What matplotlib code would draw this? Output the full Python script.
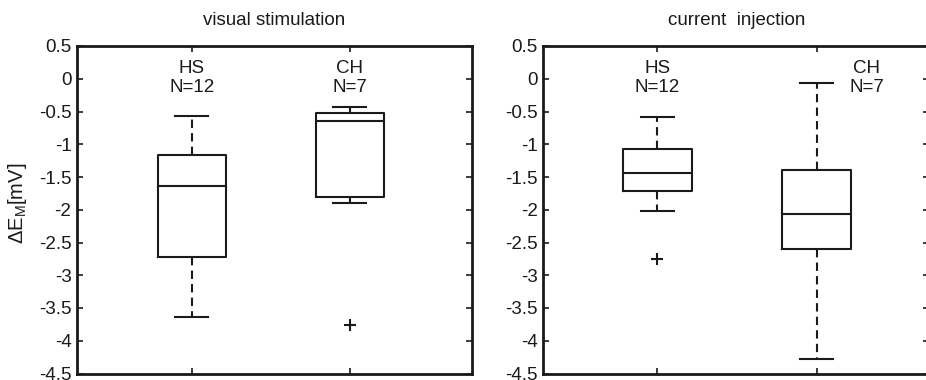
import matplotlib
matplotlib.use('Agg')
import matplotlib.pyplot as plt

plt.rcParams['font.family'] = ['Liberation Sans', 'DejaVu Sans']
plt.rcParams['mathtext.fontset'] = 'custom'
plt.rcParams['mathtext.rm'] = 'Liberation Sans'
plt.rcParams['mathtext.it'] = 'Liberation Sans'

# box statistics (mV)
groups = ['HS', 'CH']
n_cells = [12, 7]

vis_whislo = [-3.64, -1.90]
vis_q1 = [-2.72, -1.80]
vis_med = [-1.64, -0.65]
vis_q3 = [-1.165, -0.52]
vis_whishi = [-0.575, -0.43]
vis_fliers = [[], [-3.76]]

cur_whislo = [-2.02, -4.28]
cur_q1 = [-1.71, -2.60]
cur_med = [-1.44, -2.06]
cur_q3 = [-1.07, -1.39]
cur_whishi = [-0.585, -0.065]
cur_fliers = [[-2.75], []]

ink = '#1a1a1a'


def make_stats(lo, q1, med, q3, hi, fl):
    return [dict(whislo=lo[i], q1=q1[i], med=med[i], q3=q3[i], whishi=hi[i],
                 fliers=fl[i]) for i in range(len(lo))]


def draw(ax, stats, xlim, label_x, title):
    ax.bxp(stats, positions=[1, 2], widths=0.43, capwidths=0.21,
           boxprops=dict(color=ink, lw=1.5),
           medianprops=dict(color=ink, lw=1.5),
           whiskerprops=dict(color=ink, lw=1.5, linestyle=(0, (4, 2.5))),
           capprops=dict(color=ink, lw=1.5),
           flierprops=dict(marker='+', markeredgecolor=ink, markersize=9, mew=1.5))
    ax.set_xlim(xlim)
    ax.set_ylim(-4.5, 0.5)
    ax.set_yticks([0.5, 0, -0.5, -1, -1.5, -2, -2.5, -3, -3.5, -4, -4.5])
    ax.set_yticklabels(['0.5', '0', '-0.5', '-1', '-1.5', '-2', '-2.5', '-3',
                        '-3.5', '-4', '-4.5'])
    ax.set_xticks([1, 2])
    ax.set_xticklabels([])
    ax.tick_params(direction='in', length=4, width=1.2, top=True, right=True,
                   labelsize=13.5, colors=ink, pad=4)
    for sp in ax.spines.values():
        sp.set_linewidth(2)
        sp.set_color(ink)
    for i, g in enumerate(groups):
        ax.text(label_x[i], 0.01, g + '\nN=' + str(n_cells[i]), ha='center',
                va='center', fontsize=13.5, color=ink, linespacing=1.1)
    ax.set_title(title, fontsize=13.5, color=ink, pad=15)


fig = plt.figure(figsize=(9.26, 3.8), dpi=100)
ax1 = fig.add_axes([77 / 926, 6.5 / 380, 395 / 926, 327.5 / 380])
ax2 = fig.add_axes([543.3 / 926, 6.5 / 380, 386 / 926, 327.5 / 380])

draw(ax1, make_stats(vis_whislo, vis_q1, vis_med, vis_q3, vis_whishi, vis_fliers),
     (0.274, 2.774), [1, 2], 'visual stimulation')
draw(ax2, make_stats(cur_whislo, cur_q1, cur_med, cur_q3, cur_whishi, cur_fliers),
     (0.285, 2.707), [1, 2.315], 'current  injection')

ax1.set_ylabel(r'$\Delta\mathregular{E_M[mV]}$', fontsize=14.5, color=ink)
ax1.yaxis.set_label_coords(-0.122, 0.52)

fig.savefig('out.png', dpi=100)
